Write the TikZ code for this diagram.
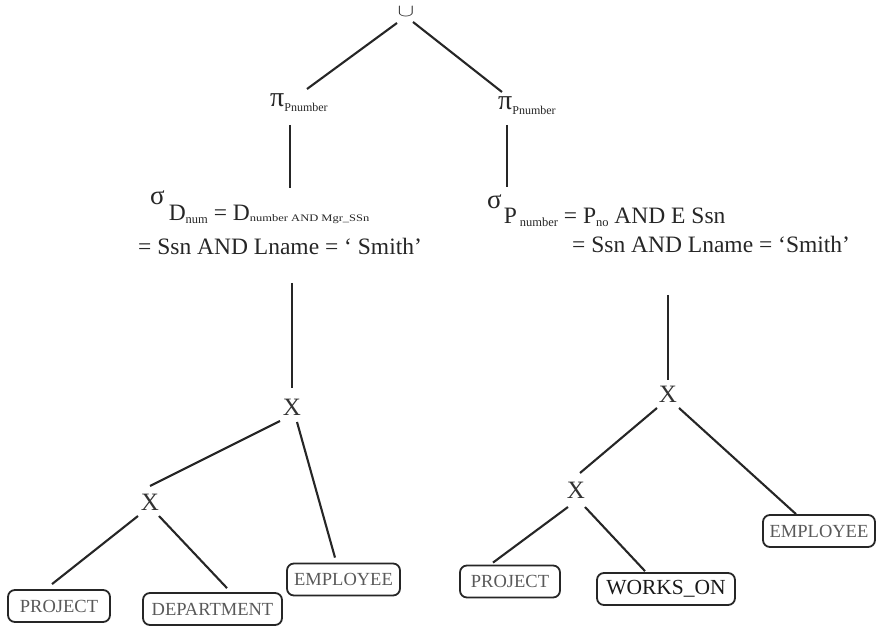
\documentclass[tikz,border=0pt]{standalone}
\usepackage{fontspec}
\setmainfont{Liberation Serif}
\usetikzlibrary{calc}
\newcommand{\bigtxt}{\fontsize{23.5}{27}\selectfont}
\newcommand{\subtxt}[1]{{\fontsize{12.5}{12.5}\selectfont #1}}
\newcommand{\tinytxt}[1]{{\fontsize{10}{10}\selectfont #1}}
\newcommand{\sigsym}{{\fontsize{27}{27}\selectfont σ}}
\newcommand{\pisym}{{\fontsize{28}{28}\selectfont π}}
\begin{document}
\begin{tikzpicture}[x=1pt,y=-1pt,
  edge/.style={draw=black!85,line width=2.1pt},
  txt/.style={inner sep=0pt,anchor=base west,text=black!85,font=\bigtxt},
  opx/.style={inner sep=0pt,text=black!80,font=\fontsize{25}{25}\selectfont},
  relbox/.style={draw=black!85,line width=1.8pt,rounded corners=7pt,inner sep=0pt,
                 minimum height=32pt,text=black!65,font=\fontsize{18.5}{18.5}\selectfont}]
\useasboundingbox (0,0) rectangle (876,628);

% union at the root
\node[inner sep=0pt,text=black!85] (cup) at (406,12) {\fontsize{27}{27}\selectfont\scalebox{1}[0.7]{$\cup$}};

% projections
\node[txt] (piL) at (270,107) {\pisym\raisebox{-5pt}{\fontsize{12}{12}\selectfont Pnumber}};
\node[txt] (piR) at (498,110) {\pisym\raisebox{-5pt}{\fontsize{12}{12}\selectfont Pnumber}};

% selections
\node[txt] (selL1) at (150,221)
  {\raisebox{16pt}{\sigsym}\hspace{4pt}D\raisebox{-3pt}{\subtxt{num}} = D\raisebox{-1pt}{\scalebox{1.25}[1]{\tinytxt{number AND Mgr\_SSn}}}};
\node[txt] (selL2) at (138,255) {= Ssn AND Lname = ‘ Smith’};
\node[txt] (selR1) at (487,224)
  {\raisebox{15pt}{\sigsym}\hspace{2pt}P\hspace{3pt}\raisebox{-3pt}{\subtxt{number}} = P\raisebox{-3pt}{\subtxt{no}} AND E Ssn};
\node[txt] (selR2) at (572,253) {= Ssn AND Lname = ‘Smith’};

% cartesian products
\node[opx] (xL)  at (292,407) {X};
\node[opx] (xLL) at (150,502) {X};
\node[opx] (xR)  at (668,394) {X};
\node[opx] (xRL) at (576,490) {X};

% relations
\node[relbox,minimum width=102pt] (projL) at (59,606) {PROJECT};
\node[relbox,minimum width=139pt] (depL)  at (212.5,609) {DEPARTMENT};
\node[relbox,minimum width=113pt] (empL)  at (343.5,579.5) {EMPLOYEE};
\node[relbox,minimum width=100pt] (projR) at (510,581.5) {PROJECT};
\node[relbox,minimum width=138pt,text=black!90,font=\fontsize{21.5}{21.5}\selectfont] (workR) at (666,589) {WORKS\_ON};
\node[relbox,minimum width=112pt] (empR)  at (819,531) {EMPLOYEE};

% edges
\draw[edge] ($(cup)+(-9,11)$) -- ($(piL.base west)+(37,-18)$);
\draw[edge] ($(cup)+(7,10)$) -- ($(piR.base west)+(4,-18)$);
\draw[edge] ($(piL.base west)+(20,18)$) -- ($(selL1.base west)+(140,-33)$);
\draw[edge] ($(piR.base west)+(9,15)$) -- ($(selR1.base west)+(20,-37)$);
\draw[edge] ($(selL2.base west)+(154,28)$) -- ($(xL)+(0,-19)$);
\draw[edge] ($(selR2.base west)+(96,42)$) -- ($(xR)+(0,-14)$);
\draw[edge] ($(xL)+(-12,14)$) -- ($(xLL)+(0,-16)$);
\draw[edge] ($(xL)+(5,15)$) -- ($(empL.north)+(-8.5,-5)$);
\draw[edge] ($(xLL)+(-12,14)$) -- ($(projL.north)+(-7,-5)$);
\draw[edge] ($(xLL)+(9,14)$) -- ($(depL.north)+(14.5,-4)$);
\draw[edge] ($(xR)+(-11,14)$) -- ($(xRL)+(4,-17)$);
\draw[edge] ($(xR)+(11,14)$) -- ($(empR.north)+(-23,0)$);
\draw[edge] ($(xRL)+(-8,17)$) -- ($(projR.north)+(-17,-2)$);
\draw[edge] ($(xRL)+(9,17)$) -- ($(workR.north)+(-21,-1)$);
\end{tikzpicture}
\end{document}
